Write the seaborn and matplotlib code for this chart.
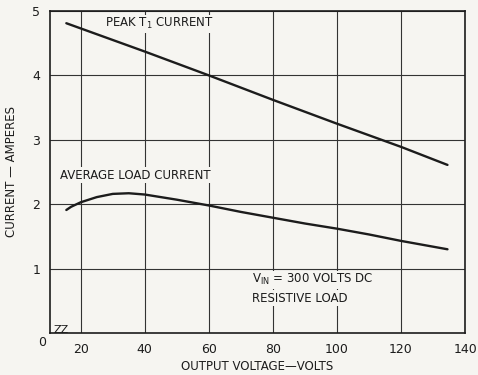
import matplotlib
matplotlib.use("Agg")
import matplotlib.pyplot as plt
import seaborn as sns
import pandas as pd

# values
peak_volts = [15.5, 40, 60, 80, 100, 120, 134.5]
peak_amps = [4.81, 4.37, 4.00, 3.62, 3.25, 2.89, 2.61]

avg_volts = [15.5, 17, 20, 25, 30, 35, 40, 50, 60, 70, 80, 90, 100, 110, 120, 134.5]
avg_amps = [1.91, 1.96, 2.03, 2.11, 2.16, 2.17, 2.15, 2.07, 1.98, 1.88, 1.79, 1.70, 1.62, 1.53, 1.43, 1.30]

x_ticks = [20, 40, 60, 80, 100, 120, 140]
y_ticks = [1, 2, 3, 4, 5]

peak = pd.DataFrame({"volts": peak_volts, "amps": peak_amps})
avg = pd.DataFrame({"volts": avg_volts, "amps": avg_amps})

sns.set_style("white")
plt.rcParams["font.family"] = ["DejaVu Sans"]
paper = "#f6f5f1"
ink = "#1c1c1c"

fig = plt.figure(figsize=(4.78, 3.75), dpi=100, facecolor=paper)
ax = fig.add_axes([0.1046, 0.112, 0.8684, 0.8587], facecolor=paper)

sns.lineplot(data=peak, x="volts", y="amps", color=ink, lw=1.7, ax=ax)
sns.lineplot(data=avg, x="volts", y="amps", color=ink, lw=1.7, ax=ax)

ax.set_xlim(10.4, 140)
ax.set_ylim(0, 5)
ax.set_xticks(x_ticks)
ax.set_yticks(y_ticks)
ax.set_xticklabels([str(t) for t in x_ticks], fontsize=9, color=ink)
ax.set_yticklabels([str(t) for t in y_ticks], fontsize=9, color=ink)
ax.tick_params(length=0, pad=7)
ax.grid(True, color="#333333", lw=0.8)
for s in ax.spines.values():
    s.set_color(ink)
    s.set_linewidth(1.2)

ax.set_xlabel("OUTPUT VOLTAGE—VOLTS", fontsize=8.5, color=ink, labelpad=3)
ax.set_ylabel("CURRENT — AMPERES", fontsize=8.5, color=ink, labelpad=10)

# annotations
ax.text(44.5, 4.8, r"PEAK T$_\mathregular{1}$ CURRENT", fontsize=8.5, color=ink,
        ha="center", va="center", bbox=dict(facecolor=paper, edgecolor="none", pad=1))
ax.text(13.6, 2.45, "AVERAGE LOAD CURRENT", fontsize=8.5, color=ink,
        ha="left", va="center", bbox=dict(facecolor=paper, edgecolor="none", pad=1))
ax.text(73.6, 0.83, r"V$_\mathregular{IN}$ = 300 VOLTS DC", fontsize=8.5, color=ink,
        ha="left", va="center", bbox=dict(facecolor=paper, edgecolor="none", pad=1))
ax.text(73.6, 0.54, "RESISTIVE LOAD", fontsize=8.5, color=ink,
        ha="left", va="center", bbox=dict(facecolor=paper, edgecolor="none", pad=1))

# origin label and axis break mark
ax.text(-0.01, -0.028, "0", transform=ax.transAxes, fontsize=9, color=ink,
        ha="right", va="center")
ax.text(0.008, 0.008, "ZZ", transform=ax.transAxes, fontsize=8, color=ink,
        ha="left", va="center")

fig.savefig("out.png", dpi=100, facecolor=paper)
